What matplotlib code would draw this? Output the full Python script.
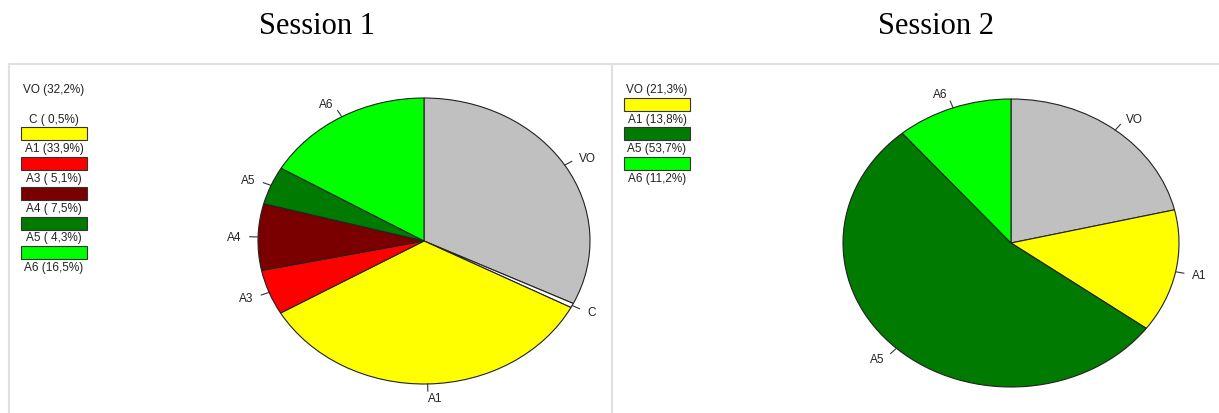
import matplotlib.pyplot as plt
from matplotlib.patches import Rectangle
import numpy as np

W, H = 1219, 414

# data
labels_1 = ['VO', 'C', 'A1', 'A3', 'A4', 'A5', 'A6']
values_1 = [32.2, 0.5, 33.9, 5.1, 7.5, 4.3, 16.5]
colors_1 = ['#c0c0c0', '#ffffff', '#ffff00', '#ff0000', '#7a0000', '#007a00', '#00ff00']

labels_2 = ['VO', 'A1', 'A5', 'A6']
values_2 = [21.3, 13.8, 53.7, 11.2]
colors_2 = ['#c0c0c0', '#ffff00', '#007a00', '#00ff00']

plt.rcParams['font.family'] = ['Liberation Sans', 'DejaVu Sans']

fig = plt.figure(figsize=(W / 100, H / 100), dpi=100)

# background axes in pixel coordinates
bg = fig.add_axes([0, 0, 1, 1])
bg.set_xlim(0, W)
bg.set_ylim(H, 0)
bg.axis('off')

# panel borders
bcol = '#e0e0e0'
bg.plot([9, 9, W], [H, 65, 65], color=bcol, lw=1.5)
bg.plot([611.5, 611.5], [65, H], color=bcol, lw=1.5)

# titles
for x, t in [(317, 'Session 1'), (936, 'Session 2')]:
    bg.text(x, 27, t, ha='center', va='center', fontsize=22,
            family=['Liberation Serif', 'DejaVu Serif'])


def draw_pie(cx, cy, rx, ry, labels, values, colors):
    ax = fig.add_axes([(cx - rx) / W, 1 - (cy + ry) / H, 2 * rx / W, 2 * ry / H])
    wedges, _ = ax.pie(values, colors=colors, startangle=90, counterclock=False,
                       radius=1, wedgeprops=dict(edgecolor='#222222', linewidth=0.8))
    ax.set_aspect('auto')
    ax.set_xlim(-1, 1)
    ax.set_ylim(-1, 1)
    ax.axis('off')
    for w, lab in zip(wedges, labels):
        a = np.deg2rad((w.theta1 + w.theta2) / 2)
        c, s = np.cos(a), np.sin(a)
        ax.plot([c, 1.05 * c], [s, 1.05 * s], color='#333333', lw=0.8, clip_on=False)
        ax.text(1.1 * c, 1.1 * s, lab, ha='left' if c > 0 else 'right', va='center',
                fontsize=8.5, color='#222222', clip_on=False)


def draw_legend(x0, labels, values, colors):
    for i, (lab, v, col) in enumerate(zip(labels, values, colors)):
        y = 90 + 29.7 * i
        txt = ('%s (%4.1f%%)' % (lab, v)).replace('.', ',')
        bg.text(x0 + 33, y, txt, ha='center', va='center', fontsize=8.5, color='#222222')
        if i > 0 and col != '#ffffff':
            bg.add_patch(Rectangle((x0, y - 21), 66, 13, facecolor=col,
                                   edgecolor='#333333', lw=0.8))


draw_pie(424, 242, 166, 143, labels_1, values_1, colors_1)
draw_pie(1011, 244, 168, 144, labels_2, values_2, colors_2)

draw_legend(21, labels_1, values_1, colors_1)
draw_legend(624, labels_2, values_2, colors_2)

fig.savefig('out.png', dpi=100)
